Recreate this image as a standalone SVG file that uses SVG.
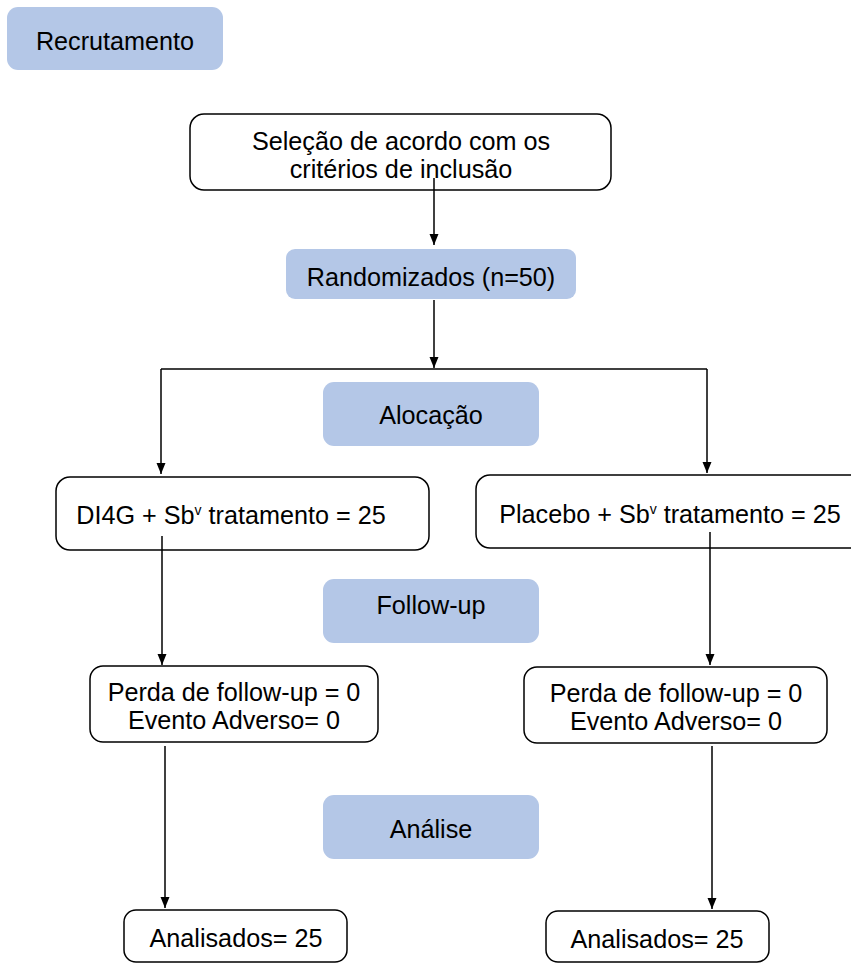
<svg xmlns="http://www.w3.org/2000/svg" width="851" height="963" viewBox="0 0 851 963">
<style>
.phase{fill:#b4c7e7;stroke:none}
.box{fill:#ffffff;stroke:#000;stroke-width:1.5}
text{font-family:"Liberation Sans",Arial,sans-serif;font-size:25.2px;fill:#000;text-anchor:middle}
.conn line,.conn path{stroke:#000;stroke-width:1.5;fill:none}
</style>
<defs>
<marker id="arr" markerUnits="userSpaceOnUse" markerWidth="12" markerHeight="14" viewBox="0 0 12 14" refX="11" refY="6" orient="auto">
<path d="M0,1.5 L11,6 L0,10.5 Z" fill="#000"/>
</marker>
</defs>
<rect width="851" height="963" fill="#fff"/>
<g id="recrutamento"><rect class="phase" x="7" y="7" width="216" height="63" rx="11"/><text x="115" y="50">Recrutamento</text></g>
<g id="selecao"><rect class="box" x="190" y="114" width="421" height="76" rx="14"/><text x="401" y="150">Seleção de acordo com os</text><text x="401" y="178">critérios de inclusão</text></g>
<g id="randomizados"><rect class="phase" x="286" y="249" width="290" height="50" rx="9"/><text x="431" y="286">Randomizados (n=50)</text></g>
<g id="alocacao"><rect class="phase" x="323" y="382" width="216" height="64" rx="11"/><text x="431" y="424">Alocação</text></g>
<g id="di4g"><rect class="box" x="56" y="477" width="373" height="73" rx="14"/><text x="231" y="524">DI4G + Sb<tspan font-size="14" dy="-9">v</tspan><tspan dy="9"> tratamento = 25</tspan></text></g>
<g id="placebo"><rect class="box" x="476" y="475" width="400" height="73" rx="14"/><text x="670" y="523">Placebo + Sb<tspan font-size="14" dy="-9">v</tspan><tspan dy="9"> tratamento = 25</tspan></text></g>
<g id="followup"><rect class="phase" x="323" y="579" width="216" height="64" rx="11"/><text x="431" y="614">Follow-up</text></g>
<g id="perda-esq"><rect class="box" x="90" y="666" width="288" height="76" rx="13"/><text x="234" y="701">Perda de follow-up = 0</text><text x="234" y="729">Evento Adverso= 0</text></g>
<g id="perda-dir"><rect class="box" x="524" y="667" width="303" height="76" rx="13"/><text x="676" y="702">Perda de follow-up = 0</text><text x="676" y="730">Evento Adverso= 0</text></g>
<g id="analise"><rect class="phase" x="323" y="795" width="216" height="64" rx="11"/><text x="431" y="838">Análise</text></g>
<g id="analisados-esq"><rect class="box" x="124" y="910" width="223" height="52" rx="12"/><text x="236" y="947">Analisados= 25</text></g>
<g id="analisados-dir"><rect class="box" x="546" y="911" width="223" height="51" rx="12"/><text x="657" y="948">Analisados= 25</text></g>
<g id="connectors" class="conn">
<line x1="434" y1="178" x2="434" y2="245" marker-end="url(#arr)"/>
<line x1="434" y1="300" x2="434" y2="368" marker-end="url(#arr)"/>
<path d="M161,369 H707"/>
<line x1="161" y1="369" x2="161" y2="474" marker-end="url(#arr)"/>
<line x1="707" y1="369" x2="707" y2="473" marker-end="url(#arr)"/>
<line x1="162" y1="536" x2="162" y2="665" marker-end="url(#arr)"/>
<line x1="710" y1="532" x2="710" y2="665" marker-end="url(#arr)"/>
<line x1="165" y1="746" x2="165" y2="908" marker-end="url(#arr)"/>
<line x1="712" y1="746" x2="712" y2="909" marker-end="url(#arr)"/>
</g>
</svg>
